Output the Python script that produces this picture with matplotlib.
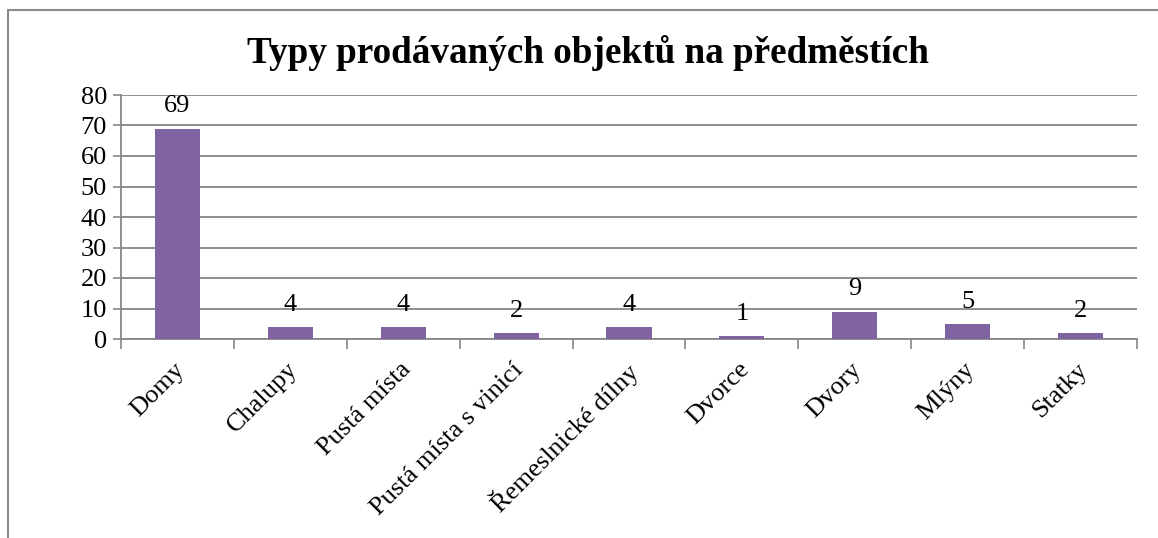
import numpy as np
import matplotlib.pyplot as plt
import matplotlib.transforms as mtransforms
from matplotlib.patches import Rectangle

categories = ['Domy', 'Chalupy', 'Pustá místa', 'Pustá místa s vinicí',
              'Řemeslnické dílny', 'Dvorce', 'Dvory', 'Mlýny', 'Statky']
counts = [69, 4, 4, 2, 4, 1, 9, 5, 2]
yticks = [0, 10, 20, 30, 40, 50, 60, 70, 80]

plt.rcParams['font.family'] = ['Liberation Serif', 'DejaVu Serif']

W, H = 1158, 538
fig = plt.figure(figsize=(W / 100, H / 100), dpi=100)

# axes placed in pixel coords
left, right, top, bottom = 121, 1137, 95, 339
ax = fig.add_axes([left / W, (H - bottom) / H, (right - left) / W, (bottom - top) / H])

x = np.arange(len(categories))
bars = ax.bar(x, counts, width=0.4, color='#8064A2', zorder=3)

for xi, v in zip(x, counts):
    ax.annotate(str(v), (xi, v), xytext=(0, 8), textcoords='offset points',
                ha='center', va='bottom', fontsize=19)

ax.set_xlim(-0.5, len(categories) - 0.5)
ax.set_ylim(0, 80)
ax.set_yticks(yticks)
ax.tick_params(axis='y', labelsize=19, length=6, width=1.2, color='#868686', pad=4)
ax.yaxis.grid(True, color='#868686', linewidth=1.3, zorder=0)

# category ticks at the boundaries, labels at the centres
ax.set_xticks(x)
ax.set_xticklabels(categories, rotation=45, ha='right', rotation_mode='anchor', fontsize=19)
ax.tick_params(axis='x', which='major', length=0, pad=14)
ax.set_xticks(np.arange(-0.5, len(categories)), minor=True)
ax.tick_params(axis='x', which='minor', length=7, width=1.2, color='#868686')
shift = mtransforms.ScaledTranslation(-4 / 100, 0, fig.dpi_scale_trans)
for lab in ax.get_xticklabels():
    lab.set_transform(lab.get_transform() + shift)

for s in ['top', 'right']:
    ax.spines[s].set_visible(False)
for s in ['left', 'bottom']:
    ax.spines[s].set_color('#868686')
    ax.spines[s].set_linewidth(1.3)

fig.text(0.508, (H - 53) / H, 'Typy prodávaných objektů na předměstích',
         ha='center', va='center', fontsize=26.7, fontweight='bold')

# chart border (only left and top edges fall inside the image)
fig.patches.append(Rectangle((8 / W, -0.1), 1.2, (H - 10) / H + 0.1,
                             transform=fig.transFigure, fill=False,
                             edgecolor='#8a8a8a', linewidth=1.5))

fig.savefig('out.png', dpi=100)
